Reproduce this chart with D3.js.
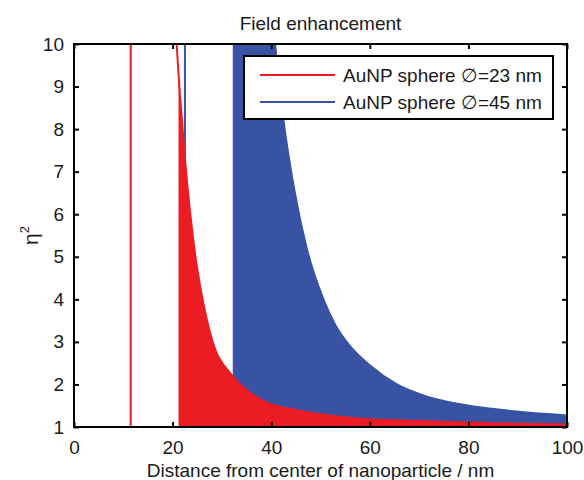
<!DOCTYPE html>
<html>
<head>
<meta charset="utf-8">
<script src="https://cdn.jsdelivr.net/npm/d3@7"></script>
<style>
  body { margin: 0; background: #fff; }
  svg { display: block; font-family: "Liberation Sans", Arial, sans-serif; }
</style>
</head>
<body>
<svg id="chart" width="584" height="480"></svg>
<script>
// values
const xTicks = [0, 20, 40, 60, 80, 100];
const yTicks = [1, 2, 3, 4, 5, 6, 7, 8, 9, 10];

const seriesNames = ["AuNP sphere \u2205=23 nm", "AuNP sphere \u2205=45 nm"];
const radii = [11.5, 22.5];        // vertical line at particle radius
const fillFrom = [21.2, 32.2];     // where the shaded area begins

// 23 nm sphere
const redDist = [20.6, 21.2, 21.5, 22.5, 23.5, 24.7, 25.6, 28, 32, 35, 39, 45, 56, 70, 85, 100];
const redEta  = [10.4, 9.3, 8.8, 7.3, 6.1, 4.95, 4.3, 3.05, 2.22, 1.87, 1.58, 1.40, 1.22, 1.14, 1.09, 1.06];

// 45 nm sphere
const blueDist = [32.2, 36, 40.8, 42.5, 44.8, 47.2, 50.6, 53, 56, 60, 65.5, 72, 82, 92, 100];
const blueEta  = [30, 17, 10, 8.2, 6.5, 5.2, 4.0, 3.4, 2.9, 2.45, 2.0, 1.7, 1.47, 1.34, 1.27];

const colors = ["#ec1c24", "#3953a4"];

const svg = d3.select("#chart");
const mLeft = 74, mRight = 567, mTop = 44, mBottom = 427;

const x = d3.scaleLinear().domain([0, 100]).range([mLeft, mRight]);
const y = d3.scaleLinear().domain([1, 10]).range([mBottom, mTop]);

svg.append("defs").append("clipPath").attr("id", "plotclip")
  .append("rect")
  .attr("x", mLeft).attr("y", mTop)
  .attr("width", mRight - mLeft).attr("height", mBottom - mTop);

const plot = svg.append("g").attr("clip-path", "url(#plotclip)");

const series = [
  { dist: redDist, eta: redEta },
  { dist: blueDist, eta: blueEta }
];

const line = d3.line().x(d => x(d[0])).y(d => y(d[1])).curve(d3.curveMonotoneX);
const area = d3.area().x(d => x(d[0])).y0(y(1)).y1(d => y(d[1])).curve(d3.curveMonotoneX);

// draw blue first, red on top (red fill hides the blue parts)
[1, 0].forEach(i => {
  const pts = series[i].dist.map((d, k) => [d, series[i].eta[k]]);
  const filled = pts.filter(p => p[0] >= fillFrom[i]);

  plot.append("path")
    .datum(filled)
    .attr("d", area)
    .attr("fill", colors[i]);

  plot.append("line")
    .attr("x1", x(radii[i])).attr("x2", x(radii[i]))
    .attr("y1", y(1)).attr("y2", y(10))
    .attr("stroke", colors[i])
    .attr("stroke-width", 2);

  plot.append("path")
    .datum(pts)
    .attr("d", line)
    .attr("fill", "none")
    .attr("stroke", colors[i])
    .attr("stroke-width", 2);
});

// axes, matlab style: ticks pointing inwards on all four sides
const tickLen = 5;
const fs = 19;

const xAxis = svg.append("g").attr("transform", `translate(0,${mBottom})`)
  .call(d3.axisBottom(x).tickValues(xTicks).tickSizeInner(-tickLen).tickSizeOuter(0).tickPadding(tickLen + 9));
const xAxisTop = svg.append("g").attr("transform", `translate(0,${mTop})`)
  .call(d3.axisTop(x).tickValues(xTicks).tickSizeInner(-tickLen).tickSizeOuter(0).tickFormat(""));
const yAxis = svg.append("g").attr("transform", `translate(${mLeft},0)`)
  .call(d3.axisLeft(y).tickValues(yTicks).tickSizeInner(-tickLen).tickSizeOuter(0).tickPadding(tickLen + 5));
const yAxisRight = svg.append("g").attr("transform", `translate(${mRight},0)`)
  .call(d3.axisRight(y).tickValues(yTicks).tickSizeInner(-tickLen).tickSizeOuter(0).tickFormat(""));

[xAxis, xAxisTop, yAxis, yAxisRight].forEach(g => {
  g.select(".domain").remove();
  g.selectAll(".tick line").attr("stroke", "#000").attr("stroke-width", 2);
  g.selectAll(".tick text")
    .attr("fill", "#1a1a1a")
    .attr("font-size", fs)
    .attr("font-family", "Liberation Sans, Arial, sans-serif");
});

svg.append("rect")
  .attr("x", mLeft).attr("y", mTop)
  .attr("width", mRight - mLeft).attr("height", mBottom - mTop)
  .attr("fill", "none")
  .attr("stroke", "#000")
  .attr("stroke-width", 2);

// title and axis labels
svg.append("text")
  .attr("x", (mLeft + mRight) / 2).attr("y", 30)
  .attr("text-anchor", "middle")
  .attr("font-size", fs).attr("fill", "#1a1a1a")
  .text("Field enhancement");

svg.append("text")
  .attr("x", (mLeft + mRight) / 2).attr("y", 477)
  .attr("text-anchor", "middle")
  .attr("font-size", fs).attr("fill", "#1a1a1a")
  .text("Distance from center of nanoparticle / nm");

const yl = svg.append("text")
  .attr("transform", `translate(38,${(mTop + mBottom) / 2}) rotate(-90)`)
  .attr("text-anchor", "middle")
  .attr("font-size", fs + 2).attr("fill", "#1a1a1a");
yl.append("tspan").text("\u03b7");
yl.append("tspan").attr("font-size", 13).attr("dy", -9).text("2");

// legend
const lg = svg.append("g");
lg.append("rect")
  .attr("x", 244).attr("y", 56)
  .attr("width", 309).attr("height", 63)
  .attr("fill", "#fff")
  .attr("stroke", "#000")
  .attr("stroke-width", 2);
seriesNames.forEach((name, i) => {
  const ly = 75 + i * 27;
  lg.append("line")
    .attr("x1", 260).attr("x2", 335)
    .attr("y1", ly).attr("y2", ly)
    .attr("stroke", colors[i]).attr("stroke-width", 2);
  lg.append("text")
    .attr("x", 343).attr("y", ly + 7)
    .attr("font-size", fs).attr("fill", "#1a1a1a")
    .text(name);
});
</script>
</body>
</html>
